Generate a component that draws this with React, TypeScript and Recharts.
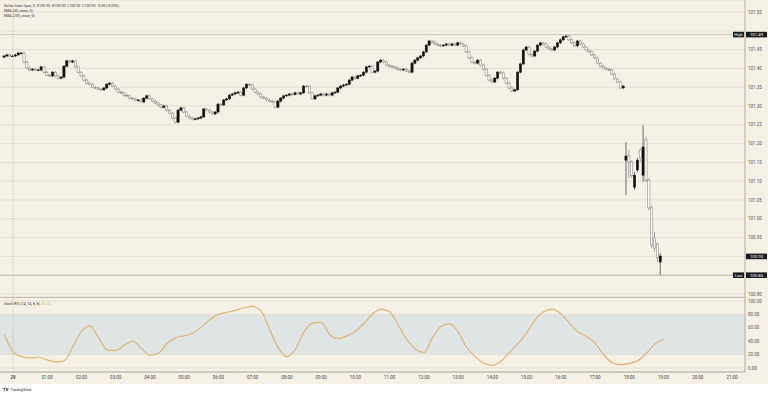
import React from "react";
import {
  ComposedChart,
  Bar,
  Line,
  XAxis,
  YAxis,
  CartesianGrid,
  ReferenceLine,
  ReferenceArea,
} from "recharts";

// 5-minute candles, first one at 23:45 on the 28th
const startHour = -0.25;
const firstOpen = 101.43;

// closes from 23:45 to 17:50 (open = previous close)
const closes = [
  101.433, 101.436, 101.433,
  // 00:00
  101.433, 101.436, 101.441, 101.441, 101.417, 101.401, 101.396, 101.398, 101.396, 101.396, 101.404, 101.39,
  // 01:00
  101.382, 101.38, 101.39, 101.38, 101.374, 101.377, 101.406, 101.42, 101.417, 101.42, 101.404, 101.39,
  // 02:00
  101.38, 101.369, 101.361, 101.358, 101.35, 101.348, 101.345, 101.343, 101.348, 101.358, 101.361, 101.353,
  // 03:00
  101.345, 101.337, 101.335, 101.329, 101.327, 101.321, 101.319, 101.316, 101.316, 101.311, 101.321, 101.327,
  // 04:00
  101.319, 101.313, 101.308, 101.303, 101.297, 101.3, 101.289, 101.281, 101.268, 101.257, 101.289, 101.295,
  // 05:00
  101.284, 101.273, 101.268, 101.265, 101.266, 101.268, 101.271, 101.292, 101.289, 101.284, 101.279, 101.284,
  // 06:00
  101.305, 101.303, 101.316, 101.319, 101.329, 101.332, 101.335, 101.337, 101.329, 101.348, 101.358, 101.356,
  // 07:00
  101.345, 101.337, 101.332, 101.324, 101.321, 101.316, 101.313, 101.311, 101.297, 101.313, 101.321, 101.327,
  // 08:00
  101.329, 101.332, 101.331, 101.335, 101.332, 101.335, 101.353, 101.352, 101.335, 101.319, 101.327, 101.329,
  // 09:00
  101.332, 101.329, 101.332, 101.329, 101.335, 101.337, 101.348, 101.353, 101.356, 101.358, 101.369, 101.377,
  // 10:00
  101.374, 101.38, 101.382, 101.39, 101.404, 101.406, 101.39, 101.393, 101.417, 101.422, 101.417, 101.409,
  // 11:00
  101.406, 101.404, 101.401, 101.398, 101.396, 101.398, 101.393, 101.39, 101.414, 101.422, 101.428, 101.433,
  // 12:00
  101.444, 101.462, 101.473, 101.47, 101.465, 101.462, 101.46, 101.462, 101.465, 101.462, 101.465, 101.462,
  // 13:00
  101.468, 101.465, 101.46, 101.444, 101.428, 101.417, 101.414, 101.422, 101.409, 101.398, 101.382, 101.369,
  // 14:00
  101.364, 101.374, 101.39, 101.388, 101.374, 101.361, 101.348, 101.34, 101.343, 101.39, 101.412, 101.449,
  // 15:00
  101.457, 101.438, 101.433, 101.446, 101.462, 101.468, 101.465, 101.457, 101.452, 101.449, 101.457, 101.468,
  // 16:00
  101.476, 101.484, 101.486, 101.476, 101.468, 101.46, 101.473, 101.465, 101.457, 101.449, 101.444, 101.436,
  // 17:00
  101.428, 101.414, 101.406, 101.401, 101.398, 101.396, 101.385, 101.372, 101.364, 101.348, 101.353,
];

// the last hour, after the gap
const lateOpen = [101.156, 101.167, 101.151, 101.084, 101.13, 101.183, 101.116, 101.21, 101.103, 101.029, 100.949, 100.933, 100.885];
const lateHigh = [101.204, 101.183, 101.156, 101.124, 101.162, 101.188, 101.249, 101.22, 101.108, 101.037, 100.965, 100.938, 100.909];
const lateLow = [101.063, 101.108, 101.108, 101.077, 101.124, 101.151, 101.098, 101.098, 101.023, 100.922, 100.912, 100.885, 100.85];
const lateClose = [101.167, 101.151, 101.116, 101.116, 101.156, 101.162, 101.191, 101.103, 101.029, 100.93, 100.922, 100.896, 100.901];

const sessionHigh = 101.49;
const sessionLow = 100.85;
const lastPrice = 100.9;

const priceTicks = [100.8, 100.85, 100.9, 100.95, 101.0, 101.05, 101.1, 101.15, 101.2, 101.25, 101.3, 101.35, 101.4, 101.45, 101.5, 101.55];
const hiddenPriceLabels = [101.5, 100.9, 100.85];

// stoch RSI %K, every 15 minutes from 23:45
const stochStart = -0.25;
const stochK = [
  50, 24, 17, 15, 16, 12, 9, 11, 32, 55, 63, 45, 27, 26, 34, 40, 29, 19, 22, 37,
  45, 48, 52, 61, 72, 80, 83, 86, 90, 92, 85, 57, 30, 17, 28, 54, 67, 68, 50, 44,
  48, 55, 66, 81, 88, 84, 64, 43, 28, 23, 45, 62, 66, 54, 31, 17, 7, 4, 10, 23,
  37, 52, 72, 84, 88, 81, 67, 54, 47, 37, 20, 8, 5, 7, 11, 22, 36, 43,
];
const stochTicks = [0, 20, 40, 60, 80, 100];

const hourTicks = [0, 1, 2, 3, 4, 5, 6, 7, 8, 9, 10, 11, 12, 13, 14, 15, 16, 17, 18, 19, 20, 21];
const hourLabel = (h: number) => (h === 0 ? "29" : `${String(h).padStart(2, "0")}:00`);

const candles: any[] = [];
let prev = firstOpen;
closes.forEach((c, i) => {
  candles.push({ t: startHour + i / 12, open: prev, close: c, high: Math.max(prev, c), low: Math.min(prev, c), stub: true });
  prev = c;
});
lateClose.forEach((c, j) => {
  candles.push({
    t: startHour + (closes.length + j) / 12,
    open: lateOpen[j],
    high: lateHigh[j],
    low: lateLow[j],
    close: c,
    stub: false,
  });
});

const stochData = stochK.map((k, i) => ({ t: stochStart + i * 0.25, k }));

const xDomain = [-0.38, 21.38];
const bg = "#f5f1e7";
const gridColor = "#dcd8cc";
const axisColor = "#b0aca2";

const Candle = (props: any) => {
  const { x, y, width, height, payload } = props;
  const top = Math.min(y, y + height);
  const bottom = Math.max(y, y + height);
  const span = payload.high - payload.low;
  const toPx = (p: number) => (span > 0 ? top + ((payload.high - p) / span) * (bottom - top) : top);
  const cx = x + width / 2;
  const oy = toPx(payload.open);
  const cy = toPx(payload.close);
  const up = payload.close >= payload.open;
  const bTop = Math.min(oy, cy);
  const bH = Math.max(Math.abs(oy - cy), 0.8);
  const w1 = payload.stub ? top - 1.2 : top;
  const w2 = payload.stub ? bottom + 1.2 : bottom;
  return (
    <g>
      <line x1={cx} x2={cx} y1={w1} y2={w2} stroke={up ? "#111" : "#777"} strokeWidth={0.6} />
      <rect
        x={cx - 1.1}
        y={bTop}
        width={2.2}
        height={bH}
        fill={up ? "#111" : "#fdfcf8"}
        stroke={up ? "#111" : "#777"}
        strokeWidth={0.5}
      />
    </g>
  );
};

const PriceTick = ({ x, y, payload }: any) => {
  if (hiddenPriceLabels.some((h) => Math.abs(h - payload.value) < 1e-6)) return <g />;
  return (
    <text x={x} y={y} dy={1.6} fontSize={4.5} fill="#555">
      {Number(payload.value).toFixed(2)}
    </text>
  );
};

const StochTick = ({ x, y, payload }: any) => (
  <text x={x} y={y} dy={1.6} fontSize={4.5} fill="#555">
    {Number(payload.value).toFixed(2)}
  </text>
);

const TimeTick = ({ x, y, payload }: any) => (
  <text x={x} y={y} dy={3.5} fontSize={4.5} fill="#444" textAnchor="middle" fontWeight={payload.value === 0 ? 700 : 400}>
    {hourLabel(payload.value)}
  </text>
);

const Tag = ({ viewBox, name, price }: any) => {
  const right = viewBox.x + viewBox.width;
  const y = viewBox.y;
  return (
    <g>
      {name && (
        <>
          <rect x={right - 12} y={y - 2.8} width={11} height={5.6} fill="#1b1b1b" />
          <text x={right - 6.5} y={y + 1.6} fontSize={4} fill="#fff" textAnchor="middle">
            {name}
          </text>
        </>
      )}
      <rect x={right + 1} y={y - 2.8} width={21} height={5.6} fill="#1b1b1b" />
      <text x={right + 11.5} y={y + 1.6} fontSize={4.3} fill="#fff" textAnchor="middle">
        {price.toFixed(2)}
      </text>
    </g>
  );
};

export default function App() {
  return (
    <div
      style={{
        position: "fixed",
        left: 0,
        top: 0,
        width: 768,
        height: 394,
        background: bg,
        fontFamily: "Roboto, 'Liberation Sans', sans-serif",
        overflow: "hidden",
      }}
    >
      <div style={{ position: "absolute", left: 0, top: 0 }}>
        <ComposedChart width={768} height={297} data={candles} margin={{ top: 0, right: 0, left: 0, bottom: 0 }}>
          <CartesianGrid horizontal vertical={false} stroke={gridColor} strokeWidth={0.7} />
          <XAxis dataKey="t" type="number" domain={xDomain} hide allowDataOverflow />
          <YAxis
            orientation="right"
            width={23}
            domain={[100.792, 101.582]}
            ticks={priceTicks}
            interval={0}
            tick={<PriceTick />}
            tickSize={2}
            tickMargin={1}
            tickLine={false}
            axisLine={{ stroke: axisColor }}
            allowDataOverflow
          />
          <ReferenceLine x={0} stroke="#9a9a9a" strokeDasharray="1 1.5" strokeWidth={0.6} />
          <ReferenceLine
            y={sessionHigh}
            stroke="#c2bdb2"
            strokeWidth={0.8}
            label={(p: any) => <Tag viewBox={p.viewBox} name="High" price={sessionHigh} />}
          />
          <ReferenceLine
            y={sessionLow}
            stroke="#b8b3a8"
            strokeWidth={0.8}
            label={(p: any) => <Tag viewBox={p.viewBox} name="Low" price={sessionLow} />}
          />
          <ReferenceLine
            y={lastPrice}
            stroke="transparent"
            label={(p: any) => <Tag viewBox={p.viewBox} price={lastPrice} />}
          />
          <Bar dataKey={(d: any) => [d.low, d.high]} barSize={2} shape={<Candle />} isAnimationActive={false} />
        </ComposedChart>
      </div>

      <div style={{ position: "absolute", left: 4, top: 4, fontSize: 3.6, lineHeight: "5px", color: "#333" }}>
        <div>Dollar Index Spot, 5&nbsp; O100.90&nbsp; H100.90&nbsp; L100.90&nbsp; C100.90&nbsp; -0.00 (-0.00%)</div>
        <div>EMA (50, close, 0)</div>
        <div>EMA (200, close, 0)</div>
      </div>

      <div style={{ position: "absolute", left: 0, top: 297, width: 745, height: 1, background: axisColor }} />

      <div style={{ position: "absolute", left: 0, top: 297 }}>
        <ComposedChart width={768} height={87} data={stochData} margin={{ top: 0, right: 0, left: 0, bottom: 0 }}>
          <ReferenceArea y1={20} y2={80} fill="#dfe4e4" fillOpacity={1} stroke="none" />
          <CartesianGrid horizontal vertical={false} stroke={gridColor} strokeWidth={0.7} />
          <XAxis
            dataKey="t"
            type="number"
            domain={xDomain}
            ticks={hourTicks}
            interval={0}
            height={12}
            tick={<TimeTick />}
            tickSize={1}
            tickMargin={2}
            tickLine={false}
            axisLine={{ stroke: axisColor }}
            allowDataOverflow
          />
          <YAxis
            orientation="right"
            width={23}
            domain={[-6, 106]}
            ticks={stochTicks}
            interval={0}
            tick={<StochTick />}
            tickSize={2}
            tickMargin={1}
            tickLine={false}
            axisLine={{ stroke: axisColor }}
            allowDataOverflow
          />
          <ReferenceLine x={0} stroke="#9a9a9a" strokeDasharray="1 1.5" strokeWidth={0.6} />
          <Line dataKey="k" type="monotone" stroke="#e0b46e" strokeWidth={1.2} dot={false} isAnimationActive={false} />
        </ComposedChart>
      </div>

      <div style={{ position: "absolute", left: 4, top: 302, fontSize: 3.6, color: "#333", whiteSpace: "nowrap" }}>
        Stoch RSI (14, 14, 8, 8)&nbsp; <span style={{ color: "#e0b46e" }}>43.36</span>
      </div>

      <div
        style={{
          position: "absolute",
          left: 0,
          top: 384,
          width: 768,
          height: 10,
          background: "#ffffff",
          fontSize: 3.8,
          color: "#222",
        }}
      >
        <span style={{ position: "absolute", left: 3, top: 2.5, fontWeight: 900, fontSize: 4.2 }}>TV</span>
        <span style={{ position: "absolute", left: 10.5, top: 2.8 }}>TradingView</span>
      </div>
    </div>
  );
}
